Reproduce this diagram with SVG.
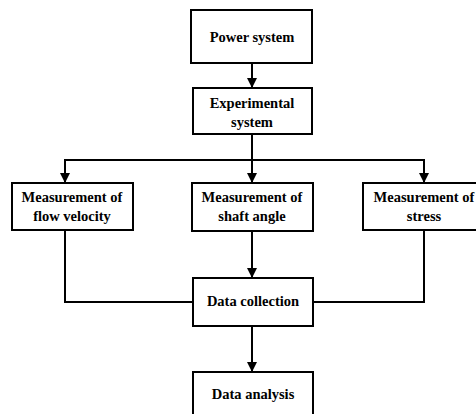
<svg xmlns="http://www.w3.org/2000/svg" width="476" height="414" viewBox="0 0 476 414">
<defs>
<marker id="ah" viewBox="0 0 10 10" refX="10" refY="5" markerWidth="10" markerHeight="10" markerUnits="userSpaceOnUse" orient="auto">
<path d="M0,0 L10,5 L0,10 Z" fill="#000"/>
</marker>
<style>
.box{fill:#fff;stroke:#000;stroke-width:2}
.t{font-family:"Liberation Serif","Times New Roman",serif;font-weight:bold;font-size:14.5px;text-anchor:middle;fill:#000}
.c{fill:none;stroke:#000;stroke-width:2}
</style>
</defs>
<rect width="476" height="414" fill="#fff"/>
<g id="connectors">
<line class="c" x1="252" y1="63" x2="252" y2="88" marker-end="url(#ah)"/>
<line class="c" x1="252" y1="134" x2="252" y2="183" marker-end="url(#ah)"/>
<polyline class="c" points="65,183 65,160 424,160 424,183"/>
<line class="c" x1="65" y1="160" x2="65" y2="183" marker-end="url(#ah)"/>
<line class="c" x1="424" y1="160" x2="424" y2="183" marker-end="url(#ah)"/>
<line class="c" x1="252" y1="231" x2="252" y2="278" marker-end="url(#ah)"/>
<polyline class="c" points="65,230 65,302 193,302"/>
<polyline class="c" points="424,230 424,302 313,302"/>
<line class="c" x1="252" y1="326" x2="252" y2="372" marker-end="url(#ah)"/>
</g>
<g id="power">
<rect class="box" x="191" y="10" width="121" height="53"/>
<text class="t" x="252" y="42">Power system</text>
</g>
<g id="experimental">
<rect class="box" x="193" y="88" width="119" height="46"/>
<text class="t" x="252" y="108">Experimental</text>
<text class="t" x="252" y="127">system</text>
</g>
<g id="flow">
<rect class="box" x="12" y="183" width="121" height="47"/>
<text class="t" x="72" y="202">Measurement of</text>
<text class="t" x="72" y="221">flow velocity</text>
</g>
<g id="shaft">
<rect class="box" x="192" y="183" width="121" height="48"/>
<text class="t" x="252" y="202">Measurement of</text>
<text class="t" x="252" y="221">shaft angle</text>
</g>
<g id="stress">
<rect class="box" x="363" y="183" width="122" height="47"/>
<text class="t" x="424" y="202">Measurement of</text>
<text class="t" x="424" y="221">stress</text>
</g>
<g id="collection">
<rect class="box" x="193" y="278" width="120" height="48"/>
<text class="t" x="253" y="306">Data collection</text>
</g>
<g id="analysis">
<rect class="box" x="193" y="372" width="120" height="48"/>
<text class="t" x="253" y="399">Data analysis</text>
</g>
</svg>
